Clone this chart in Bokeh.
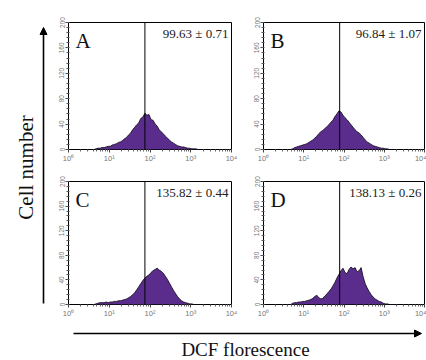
import numpy as np
from math import pi
from bokeh.plotting import figure
from bokeh.layouts import row, column
from bokeh.models import Range1d, Span, Label, Arrow, NormalHead, FixedTicker
from bokeh.embed import file_html
from bokeh.resources import INLINE

# ---------------- data ----------------
bin_start = 0.6      # log10 of first bin edge
bin_step = 0.05      # bin width in decades

panel_letters = ["A", "B", "C", "D"]
panel_values = ["99.63 \u00b1 0.71", "96.84 \u00b1 1.07", "135.82 \u00b1 0.44", "138.13 \u00b1 0.26"]
gate_positions = [75, 78, 75, 78]

counts_A = [0, 1, 2, 2, 3, 3, 4, 5, 5, 7, 8, 9, 11, 12, 14, 17, 19, 23, 26, 31,
            35, 39, 42, 49, 51, 57, 54, 55, 47, 46, 40, 37, 31, 28, 25, 21, 18, 15, 12, 10,
            8, 6, 5, 4, 4, 3, 2, 2, 1, 1, 1, 0, 0, 0]
counts_B = [0, 0, 1, 3, 4, 5, 6, 7, 8, 9, 11, 13, 15, 18, 21, 25, 28, 30, 33, 36,
            39, 43, 46, 52, 56, 61, 59, 54, 50, 47, 43, 39, 35, 31, 28, 26, 23, 19, 15, 12,
            10, 8, 6, 5, 4, 3, 2, 2, 1, 1, 0, 0, 0, 0]
counts_C = [0, 1, 2, 3, 3, 3, 4, 3, 4, 4, 5, 5, 6, 6, 7, 8, 9, 11, 13, 16,
            19, 24, 29, 34, 39, 43, 46, 48, 52, 55, 57, 59, 56, 54, 51, 46, 41, 35, 29, 23,
            18, 13, 9, 6, 4, 3, 2, 1, 1, 0, 0, 0, 0, 0]
counts_D = [0, 0, 2, 3, 3, 4, 4, 5, 5, 6, 7, 8, 10, 13, 15, 11, 9, 10, 14, 17,
            21, 25, 30, 36, 43, 49, 55, 59, 52, 50, 57, 61, 58, 60, 53, 55, 60, 45, 34, 27,
            21, 16, 12, 9, 7, 5, 4, 2, 1, 1, 0, 0, 0, 0]
panel_counts = [counts_A, counts_B, counts_C, counts_D]

y_ticks = [0, 40, 80, 120, 160, 200]
x_ticks = [1, 10, 100, 1000, 10000]
x_tick_labels = ["10\u2070", "10\u00b9", "10\u00b2", "10\u00b3", "10\u2074"]

x_title = "DCF florescence"
y_title = "Cell number"

# ---------------- style ----------------
FILL = "#5a2d8c"
SERIF = "Liberation Serif"
SANS = "Liberation Sans"

# panel geometry: (width, height, border_left, border_right, border_top, border_bottom)
geom = [
    (198, 165, 20, 15, 22, 16),
    (180, 165, 17, 2, 22, 16),
    (198, 155, 20, 15, 16, 13),
    (180, 155, 17, 2, 16, 13),
]


def make_panel(i):
    w, h, bl, br, bt, bb = geom[i]
    p = figure(width=w, height=h, x_axis_type="log",
               x_range=Range1d(1, 1e4), y_range=Range1d(0, 200),
               output_backend="svg", toolbar_location=None,
               min_border_left=bl, min_border_right=br,
               min_border_top=bt, min_border_bottom=bb)
    p.grid.visible = False
    p.outline_line_color = "black"
    p.outline_line_width = 1
    p.background_fill_color = "white"
    p.border_fill_color = "white"

    counts = np.array(panel_counts[i], dtype=float)
    n = len(counts)
    centers = 10 ** (bin_start + bin_step * (np.arange(n) + 0.5))
    p.patch(np.concatenate([centers, [centers[-1], centers[0]]]),
            np.concatenate([counts, [0, 0]]),
            fill_color=FILL, line_color=None)
    p.line(centers, counts, line_color="#1a1022", line_width=0.9)

    p.add_layout(Span(location=gate_positions[i], dimension="height",
                      line_color="black", line_width=1))

    p.add_layout(Label(x=1, y=200, x_offset=7, y_offset=-18, text=panel_letters[i],
                       text_font=SERIF, text_font_size="21px", text_color="#111",
                       text_baseline="middle", text_align="left"))
    p.add_layout(Label(x=1e4, y=200, x_offset=-3, y_offset=-11, text=panel_values[i],
                       text_font=SERIF, text_font_size="13px", text_color="#222",
                       text_baseline="middle", text_align="right"))

    # x axis
    xa = p.xaxis[0]
    xa.ticker = FixedTicker(ticks=x_ticks,
                            minor_ticks=[k * 10 ** d for d in range(4) for k in range(2, 10)])
    xa.major_label_overrides = dict(zip(x_ticks, x_tick_labels))
    xa.axis_line_color = None
    xa.major_tick_in = 0
    xa.major_tick_out = 3
    xa.minor_tick_in = 0
    xa.minor_tick_out = 2
    xa.major_tick_line_color = "#444"
    xa.minor_tick_line_color = "#666"
    xa.major_label_text_font = SANS
    xa.major_label_text_font_size = "7.5px"
    xa.major_label_text_color = "#777"
    xa.major_label_standoff = 1

    # y axis
    ya = p.yaxis[0]
    ya.ticker = FixedTicker(ticks=y_ticks, minor_ticks=list(range(0, 201, 8)))
    ya.axis_line_color = None
    ya.major_tick_in = 0
    ya.major_tick_out = 3
    ya.minor_tick_in = 1
    ya.minor_tick_out = 2
    ya.major_tick_line_color = "#444"
    ya.minor_tick_line_color = "#555"
    ya.major_label_orientation = "vertical"
    ya.major_label_text_font = SANS
    ya.major_label_text_font_size = "6.5px"
    ya.major_label_text_color = "#777"
    ya.major_label_standoff = 1
    return p


panels = [make_panel(i) for i in range(4)]

# left strip: y title + arrow
left = figure(width=48, height=320, x_range=Range1d(0, 48), y_range=Range1d(0, 320),
              output_backend="svg", toolbar_location=None,
              x_axis_location=None, y_axis_location=None,
              min_border=0, outline_line_color=None)
left.grid.visible = False
left.add_layout(Arrow(end=NormalHead(size=7, fill_color="black", line_color="black"),
                      x_start=43, y_start=17, x_end=43, y_end=293,
                      line_color="black", line_width=1.6))
left.add_layout(Label(x=25, y=153, text=y_title, angle=pi / 2,
                      text_font=SERIF, text_font_size="21px", text_color="#111",
                      text_align="center", text_baseline="middle"))

# bottom strip: x title + arrow
bottom = figure(width=426, height=40, x_range=Range1d(0, 426), y_range=Range1d(0, 40),
                output_backend="svg", toolbar_location=None,
                x_axis_location=None, y_axis_location=None,
                min_border=0, outline_line_color=None)
bottom.grid.visible = False
bottom.add_layout(Arrow(end=NormalHead(size=7, fill_color="black", line_color="black"),
                        x_start=73, y_start=27, x_end=421, y_end=27,
                        line_color="black", line_width=1.6))
bottom.add_layout(Label(x=245, y=11, text=x_title,
                        text_font=SERIF, text_font_size="19px", text_color="#111",
                        text_align="center", text_baseline="middle"))

layout = column(row(left, column(row(panels[0], panels[1]), row(panels[2], panels[3]))),
                bottom)

open("out.html", "w").write(file_html(layout, INLINE))
